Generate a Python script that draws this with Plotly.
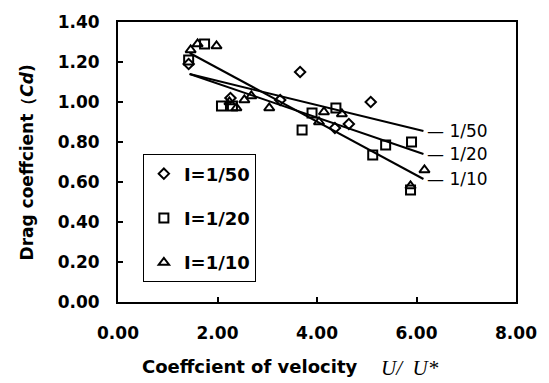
import plotly.graph_objects as go

# ---- data ----
x_50 = [1.42, 2.26, 3.26, 3.66, 4.36, 4.64, 5.08]
y_50 = [1.19, 1.02, 1.01, 1.15, 0.87, 0.89, 1.00]

x_20 = [1.42, 1.74, 2.08, 2.30, 3.70, 3.90, 4.38, 5.12, 5.38, 5.90, 5.88]
y_20 = [1.21, 1.29, 0.98, 0.98, 0.86, 0.945, 0.97, 0.735, 0.785, 0.80, 0.56]

x_10 = [1.46, 1.60, 1.98, 2.24, 2.38, 2.54, 2.68, 3.04, 4.04, 4.14, 4.50, 5.88, 6.16]
y_10 = [1.26, 1.29, 1.28, 1.00, 0.97, 1.01, 1.03, 0.97, 0.90, 0.95, 0.94, 0.58, 0.66]

# fitted trend lines (end points)
fit_x = [1.44, 6.14]
fit_50 = [1.14, 0.855]
fit_20 = [1.14, 0.74]
fit_10 = [1.245, 0.615]

line_labels = ["1/50", "1/20", "1/10"]
legend_names = ["I=1/50", "I=1/20", "I=1/10"]

x_ticks = [0, 2, 4, 6, 8]
y_ticks = [0, 0.2, 0.4, 0.6, 0.8, 1.0, 1.2, 1.4]

FONT = "DejaVu Sans, sans-serif"
SERIF = "Liberation Serif, Times New Roman, serif"

def bold(size):
    return dict(family=FONT, size=size, color="black", weight="bold")

fig = go.Figure()

# trend lines
for fy in (fit_50, fit_20, fit_10):
    fig.add_trace(go.Scatter(x=fit_x, y=fy, mode="lines",
                             line=dict(color="black", width=2),
                             showlegend=False, hoverinfo="skip"))

series = [
    (x_50, y_50, "diamond-open", 8, legend_names[0]),
    (x_20, y_20, "square-open", 9, legend_names[1]),
    (x_10, y_10, "triangle-up-open", 9, legend_names[2]),
]
for i, (xs, ys, sym, sz, name) in enumerate(series):
    fig.add_trace(go.Scatter(
        x=xs, y=ys, mode="markers", name=name, legendgroup=f"g{i}",
        marker=dict(symbol=sym, size=sz, color="black",
                    line=dict(color="black", width=2)),
    ))

# labels at the end of the trend lines
for lab, fy in zip(line_labels, (fit_50, fit_20, fit_10)):
    fig.add_annotation(x=fit_x[1], y=fy[1], xref="x", yref="y",
                       text="\u2014 " + lab, showarrow=False,
                       xanchor="left", yanchor="middle", xshift=2,
                       font=dict(family=FONT, size=17, color="black",
                                 weight="normal"))

fig.update_layout(
    width=549, height=383,
    margin=dict(l=118, r=31, t=15, b=81),
    paper_bgcolor="white", plot_bgcolor="white",
    font=bold(16),
    legend=dict(x=0.0625, y=0.527, xanchor="left", yanchor="top",
                bordercolor="black", borderwidth=1,
                tracegroupgap=18, itemwidth=30,
                font=bold(18),
                bgcolor="white"),
    xaxis=dict(range=[0, 8], tickvals=x_ticks,
               ticktext=[f"{v:.2f}" for v in x_ticks],
               ticks="inside", ticklen=5, tickwidth=1.5, tickcolor="black",
               ticklabelstandoff=15,
               showline=True, linecolor="black", linewidth=2, mirror=True,
               showgrid=False, zeroline=False,
               tickfont=bold(17)),
    yaxis=dict(range=[0, 1.4], tickvals=y_ticks,
               ticktext=[f"{v:.2f}" for v in y_ticks],
               ticks="inside", ticklen=5, tickwidth=1.5, tickcolor="black",
               ticklabelstandoff=13,
               showline=True, linecolor="black", linewidth=2, mirror=True,
               showgrid=False, zeroline=False,
               tickfont=bold(17)),
)

# y-axis title
fig.add_annotation(x=-0.2275, y=0.5, xref="paper", yref="paper",
                   text="Drag coeffcient\uff08<i>Cd</i>)", textangle=-90,
                   showarrow=False, xanchor="center", yanchor="middle",
                   font=bold(17))

# x-axis title
fig.add_annotation(x=0.055, y=-0.23, xref="paper", yref="paper",
                   text="Coeffcient of velocity",
                   showarrow=False, xanchor="left", yanchor="middle",
                   font=bold(18))
fig.add_annotation(x=0.655, y=-0.237, xref="paper", yref="paper",
                   text="<i>U/\u00a0\u00a0U*</i>",
                   showarrow=False, xanchor="left", yanchor="middle",
                   font=dict(family=SERIF, size=21, color="black",
                             weight="normal"))

fig.write_html("out.html")
